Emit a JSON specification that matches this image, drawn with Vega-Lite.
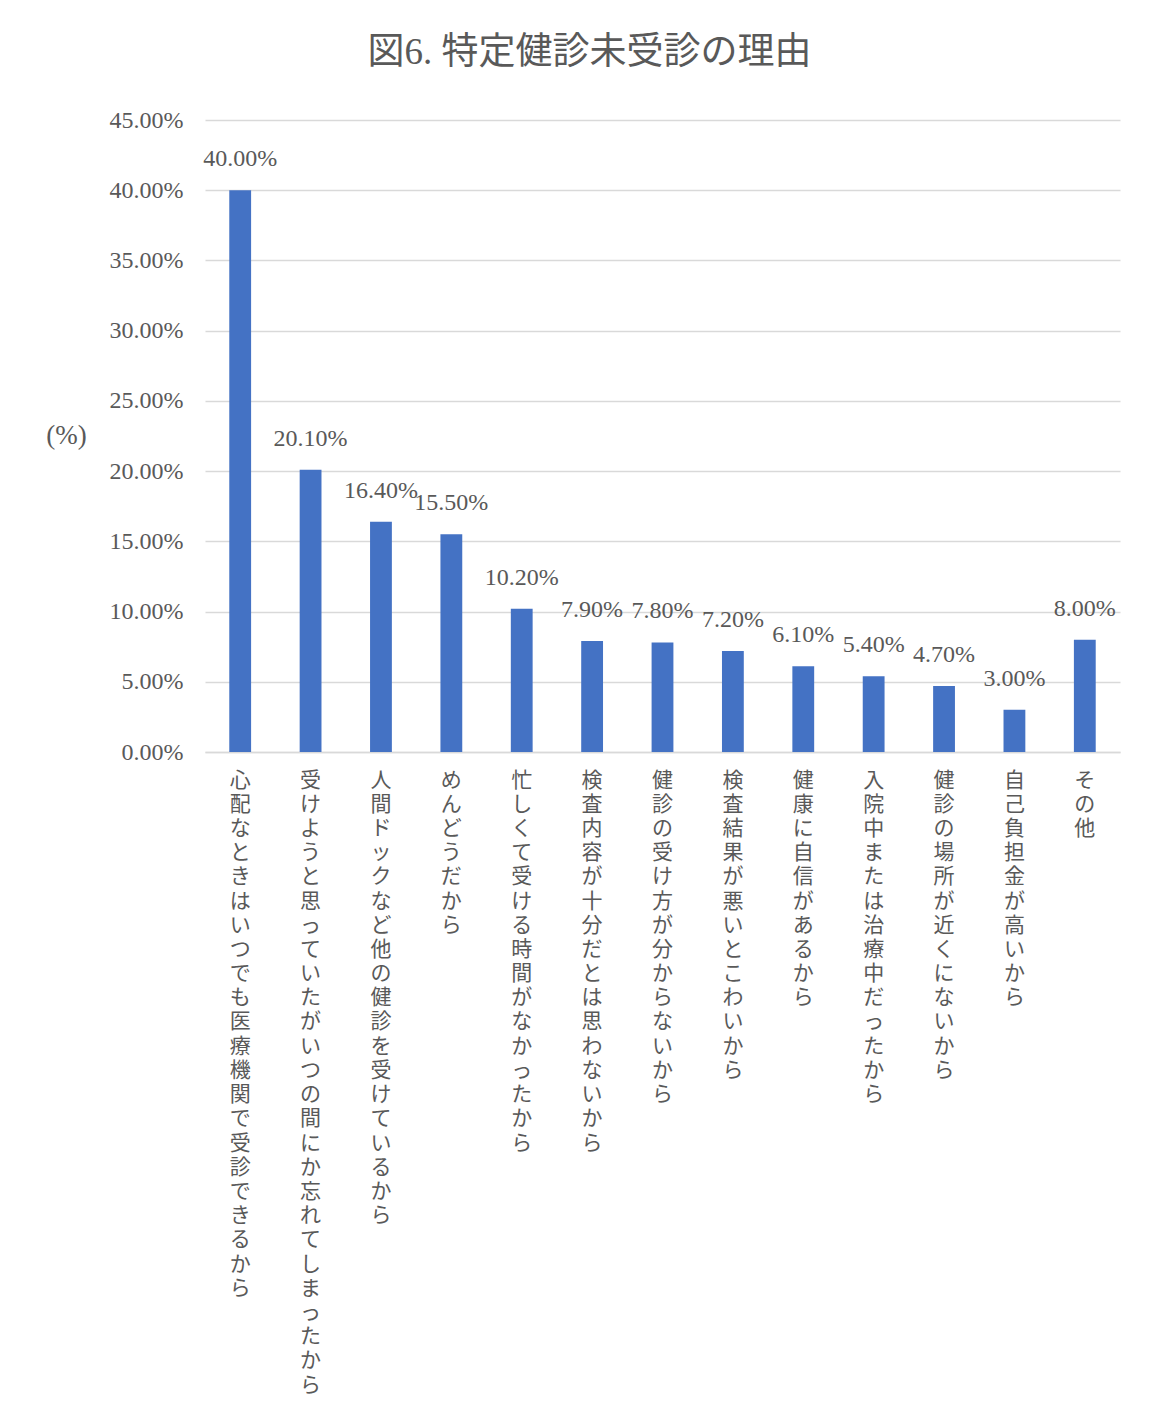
{
  "$schema": "https://vega.github.io/schema/vega-lite/v6.json",
  "autosize": "none",
  "width": 915,
  "height": 632,
  "padding": {"left": 205, "top": 120, "right": 53, "bottom": 655},
  "background": "white",
  "title": {
    "text": "図6. 特定健診未受診の理由",
    "font": "Liberation Serif, Noto Sans CJK JP",
    "fontSize": 37,
    "fontWeight": "normal",
    "color": "#595959",
    "anchor": "middle",
    "dx": -73,
    "offset": 36
  },
  "data": {
    "values": [
      {"reason": "心配なときはいつでも医療機関で受診できるから", "value": 0.40},
      {"reason": "受けようと思っていたがいつの間にか忘れてしまったから", "value": 0.201},
      {"reason": "人間ドックなど他の健診を受けているから", "value": 0.164},
      {"reason": "めんどうだから", "value": 0.155},
      {"reason": "忙しくて受ける時間がなかったから", "value": 0.102},
      {"reason": "検査内容が十分だとは思わないから", "value": 0.079},
      {"reason": "健診の受け方が分からないから", "value": 0.078},
      {"reason": "検査結果が悪いとこわいから", "value": 0.072},
      {"reason": "健康に自信があるから", "value": 0.061},
      {"reason": "入院中または治療中だったから", "value": 0.054},
      {"reason": "健診の場所が近くにないから", "value": 0.047},
      {"reason": "自己負担金が高いから", "value": 0.03},
      {"reason": "その他", "value": 0.08}
    ]
  },
  "encoding": {
    "x": {
      "field": "reason",
      "type": "nominal",
      "sort": null,
      "scale": {"paddingInner": 0.69, "paddingOuter": 0.345},
      "axis": {
        "title": null,
        "labelAngle": 0,
        "labelExpr": "split(datum.label, '')",
        "labelFont": "Noto Sans CJK JP",
        "labelFontSize": 21,
        "labelLineHeight": 24.2,
        "labelColor": "#595959",
        "labelBaseline": "top",
        "labelAlign": "center",
        "labelPadding": 17,
        "labelLimit": 0,
        "labelOverlap": false,
        "ticks": false,
        "domainColor": "#d9d9d9",
        "domainWidth": 1.5,
        "grid": false
      }
    },
    "y": {
      "field": "value",
      "type": "quantitative",
      "scale": {"domain": [0, 0.45], "nice": false},
      "axis": {
        "values": [0, 0.05, 0.1, 0.15, 0.2, 0.25, 0.3, 0.35, 0.4, 0.45],
        "format": ".2%",
        "title": "(%)",
        "titleAngle": 0,
        "titleX": -139,
        "titleY": 315,
        "titleAlign": "center",
        "titleBaseline": "middle",
        "titleFont": "Liberation Serif, Noto Sans CJK JP",
        "titleFontSize": 27,
        "titleFontWeight": "normal",
        "titleColor": "#595959",
        "labelFont": "Liberation Serif",
        "labelFontSize": 24,
        "labelColor": "#595959",
        "labelPadding": 22,
        "ticks": false,
        "domain": false,
        "grid": true,
        "gridColor": "#d9d9d9",
        "gridWidth": 1.5
      }
    }
  },
  "layer": [
    {"mark": {"type": "bar", "color": "#4472C4"}},
    {
      "mark": {
        "type": "text",
        "baseline": "alphabetic",
        "dy": -24,
        "font": "Liberation Serif",
        "fontSize": 24,
        "color": "#595959"
      },
      "encoding": {
        "text": {"field": "value", "type": "quantitative", "format": ".2%"}
      }
    }
  ],
  "config": {"view": {"stroke": null}}
}
